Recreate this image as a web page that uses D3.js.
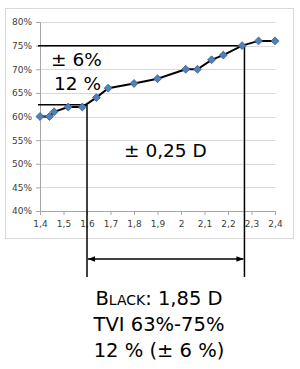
<!DOCTYPE html>
<html>
<head>
<meta charset="utf-8">
<script src="https://cdn.jsdelivr.net/npm/d3@7"></script>
<style>
  body { margin: 0; background: #fff; }
  text { font-family: "DejaVu Sans", Verdana, sans-serif; }
</style>
</head>
<body>
<div id="chart"></div>
<script>
// data
var densities = [1.40, 1.44, 1.46, 1.52, 1.58, 1.64, 1.69, 1.80, 1.90, 2.02, 2.07, 2.13, 2.18, 2.26, 2.33, 2.40];
var tvi = [60, 60, 61, 62, 62, 64, 66, 67, 68, 70, 70, 72, 73, 75, 76, 76];
var xTicks = [1.4, 1.5, 1.6, 1.7, 1.8, 1.9, 2.0, 2.1, 2.2, 2.3, 2.4];
var yTicks = [40, 45, 50, 55, 60, 65, 70, 75, 80];
// tolerance guides: low / high density and TVI
var guideLow = {d: 1.6, v: 62.5};
var guideHigh = {d: 2.27, v: 75};
var labels = ["\u00b1 6%", "12 %", "\u00b1 0,25 D"];
var caption = ["Black: 1,85 D", "TVI 63%-75%", "12 % (\u00b1 6 %)"];

var W = 300, H = 369;

var svg = d3.select("#chart").append("svg")
    .attr("width", W)
    .attr("height", H);

var x = d3.scaleLinear().domain([1.4, 2.4]).range([40, 275]);
var y = d3.scaleLinear().domain([40, 80]).range([211, 22]);

// chart border
svg.append("rect")
    .attr("x", 5.5).attr("y", 8.5)
    .attr("width", 288).attr("height", 230)
    .style("fill", "none")
    .style("stroke", "#d9d9d9");

// gridlines
svg.append("g")
    .selectAll("line")
    .data(yTicks.slice(1))
  .enter().append("line")
    .attr("x1", x(1.4)).attr("x2", x(2.4))
    .attr("y1", function(d) { return Math.round(y(d)) + 0.5; })
    .attr("y2", function(d) { return Math.round(y(d)) + 0.5; })
    .style("stroke", "#d9d9d9");

// y axis
var yAxis = svg.append("g")
    .attr("transform", "translate(" + x(1.4) + ",0)")
    .call(d3.axisLeft(y).tickValues(yTicks).tickSize(4).tickPadding(4)
      .tickFormat(function(d) { return d + "%"; }));
// x axis
var xAxis = svg.append("g")
    .attr("transform", "translate(0," + y(40) + ")")
    .call(d3.axisBottom(x).tickValues(xTicks).tickSize(4).tickPadding(6)
      .tickFormat(function(d) { return d3.format("")(+d.toFixed(1)).replace(".", ","); }));

[yAxis, xAxis].forEach(function(a) {
  a.select(".domain").style("stroke", "#a6a6a6");
  a.selectAll(".tick line").style("stroke", "#a6a6a6");
  a.selectAll(".tick text")
    .style("font-family", "Tahoma, 'DejaVu Sans', sans-serif")
    .style("font-size", "9px")
    .style("fill", "#404040");
});

// guide lines
var guides = svg.append("g").style("stroke", "#000").style("stroke-width", 1.5);
guides.append("line")
    .attr("x1", 38).attr("x2", x(guideHigh.d))
    .attr("y1", y(guideHigh.v)).attr("y2", y(guideHigh.v));
guides.append("line")
    .attr("x1", 38).attr("x2", x(guideLow.d))
    .attr("y1", y(guideLow.v)).attr("y2", y(guideLow.v));
guides.append("line")
    .attr("x1", x(guideLow.d)).attr("x2", x(guideLow.d))
    .attr("y1", y(guideLow.v)).attr("y2", 277);
guides.append("line")
    .attr("x1", x(guideHigh.d)).attr("x2", x(guideHigh.d))
    .attr("y1", y(guideHigh.v)).attr("y2", 277);

// double arrow
var defs = svg.append("defs");
defs.append("marker")
    .attr("id", "arr")
    .attr("viewBox", "0 0 10 10")
    .attr("refX", 10).attr("refY", 5)
    .attr("markerWidth", 7).attr("markerHeight", 7)
    .attr("markerUnits", "userSpaceOnUse")
    .attr("orient", "auto-start-reverse")
  .append("path")
    .attr("d", "M0,1 L10,5 L0,9 Z")
    .style("fill", "#000");
svg.append("line")
    .attr("x1", x(guideLow.d) + 1).attr("x2", x(guideHigh.d) - 1)
    .attr("y1", 259).attr("y2", 259)
    .style("stroke", "#000").style("stroke-width", 1.5)
    .attr("marker-start", "url(#arr)")
    .attr("marker-end", "url(#arr)");

// data line
var pts = densities.map(function(d, i) { return [d, tvi[i]]; });
svg.append("path")
    .datum(pts)
    .attr("d", d3.line()
      .x(function(d) { return x(d[0]); })
      .y(function(d) { return y(d[1]); }))
    .style("fill", "none")
    .style("stroke", "#000")
    .style("stroke-width", 2);

svg.selectAll(".pt")
    .data(pts)
  .enter().append("path")
    .attr("class", "pt")
    .attr("d", d3.symbol().type(d3.symbolDiamond2).size(40))
    .attr("transform", function(d) { return "translate(" + x(d[0]) + "," + y(d[1]) + ")"; })
    .style("fill", "#4f81bd")
    .style("stroke", "#385d8a")
    .style("stroke-width", 0.8);

// labels in the plot
svg.append("text").attr("x", 51).attr("y", 66)
    .style("font-size", "18.5px").text(labels[0]);
svg.append("text").attr("x", 54).attr("y", 90)
    .style("font-size", "18.5px").text(labels[1]);
svg.append("text").attr("x", 124).attr("y", 157)
    .style("font-size", "18.5px").text(labels[2]);

// caption
svg.selectAll(".cap")
    .data(caption)
  .enter().append("text")
    .attr("class", "cap")
    .attr("x", 159)
    .attr("y", function(d, i) { return 305 + i * 26; })
    .attr("text-anchor", "middle")
    .style("font-size", "19.5px")
    .style("font-variant", function(d, i) { return i === 0 ? "small-caps" : null; })
    .text(function(d) { return d; });
</script>
</body>
</html>
